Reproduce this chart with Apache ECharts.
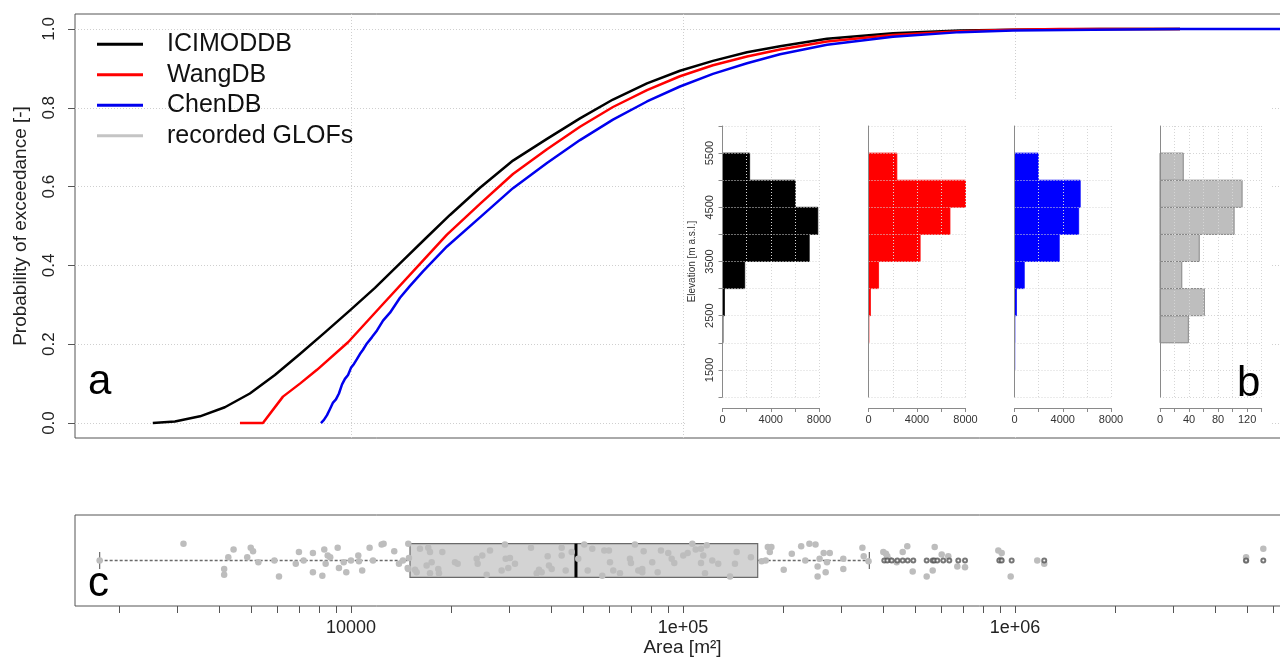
<!DOCTYPE html>
<html><head><meta charset="utf-8">
<script src="https://cdn.jsdelivr.net/npm/echarts@6/dist/echarts.min.js"></script>
<style>html,body{margin:0;padding:0;background:#fff}#c{width:1280px;height:665px}</style>
</head><body><div id="c"></div>
<script>
// ---------- Panel a: probability curves, [lake area m², probability] ----------
const icimodCurve = [[2530,0],[2950,0.004],[3510,0.017],[4170,0.040],[4960,0.075],[5900,0.122],[7020,0.175],[8350,0.230],[9930,0.286],[11810,0.343],[14050,0.405],[16710,0.467],[19870,0.528],[24470,0.597],[30760,0.666],[38940,0.721],[48960,0.773],[61540,0.821],[77910,0.862],[97950,0.894],[123100,0.919],[155900,0.941],[196000,0.956],[271500,0.975],[429100,0.989],[683000,0.996],[986200,0.998],[1803000,1.0],[3141000,1.0]];
const wangCurve = [[4630,0],[5430,0],[6240,0.067],[7020,0.100],[7900,0.135],[9800,0.205],[12490,0.302],[15910,0.398],[19460,0.478],[24470,0.556],[30760,0.632],[38940,0.695],[48960,0.752],[61540,0.802],[77910,0.845],[97950,0.880],[123100,0.908],[155900,0.930],[196000,0.948],[271500,0.968],[429100,0.985],[683000,0.994],[986200,0.998],[1366000,1.0],[3141000,1.0]];
const chenCurve = [[8120,0],[8290,0.008],[8470,0.020],[8640,0.035],[8830,0.052],[9010,0.060],[9200,0.075],[9400,0.098],[9590,0.112],[9800,0.122],[10000,0.140],[10210,0.150],[10420,0.162],[10640,0.175],[10870,0.186],[11170,0.202],[11570,0.218],[11980,0.235],[12490,0.260],[13110,0.280],[14050,0.318],[15060,0.348],[16480,0.385],[19460,0.448],[24470,0.522],[30760,0.596],[38940,0.660],[48960,0.718],[61540,0.770],[77910,0.816],[97950,0.854],[123100,0.886],[155900,0.913],[196000,0.936],[271500,0.960],[429100,0.980],[683000,0.992],[986200,0.996],[1717000,0.998],[3141000,1.0],[6735000,1.0]];
const probTicks = [0, 0.2, 0.4, 0.6, 0.8, 1.0];

// ---------- Panel b: elevation histograms (500 m bins) ----------
const elevBinLower = [1000,1500,2000,2500,3000,3500,4000,4500,5000,5500];
const icimodCounts = [0,0,40,160,1840,7190,7900,6030,2250,0];
const wangCounts   = [0,0,30,160,830,4260,6720,8000,2340,0];
const chenCounts   = [0,20,30,160,810,3710,5320,5450,1970,0];
const glofCounts   = [0,0,39,61,30,54,102,113,32,0];

// ---------- Panel c: recorded GLOF lake areas (m²) ----------
const glofArea = [1750,3130,4150,4150,4270,4430,4870,4990,5070,5260,5880,6070,6820,6970,7200,7680,7680,8200,8310,8390,8510,8660,9120,9200,9510,9680,10000,10520,10570,10810,11380,11650,12370,12540,13500,13950,14340,14880,14820,14950,14880,15590,15770,16140,17090,17300,17500,16900,17300,18320,18410,18840,20570,20960,23910,24080,24860,25630,26230,28430,29090,29240,29770,30120,31190,34850,36250,36840,37530,39130,39480,40230,43110,43110,44330,46220,48370,50430,51640,53310,57140,57940,59850,60270,61660,64590,69230,69710,71670,73340,75400,76130,75400,80800,83900,85840,90300,92470,94150,100200,103300,106700,109200,113300,113300,115100,116500,117900,122500,127700,138600,143400,145100,160200,172600,177500,180100,184600,182600,201100,212700,227000,233600,240300,250700,254400,254400,257900,265300,269000,271500,276800,304000,304000,347100,350300,362200,401200,408700,412500,418200,440300,458900,473800,491900,542000,565100,573000,601500,629700,670300,707100,890800,912000,905700,970500,1167000,1225000,4967000,4967000,5597000];
const glofJitter = [0,0.20,-0.10,-0.17,0.04,0.13,0.04,0.15,0.11,-0.02,0,-0.19,-0.04,0.10,0,0.09,-0.14,-0.18,0.13,-0.04,0.06,0.04,0.15,-0.09,-0.02,-0.14,0,0.06,-0.01,-0.12,0.15,0,0.19,0.20,0.11,-0.04,0,0.20,-0.09,0.03,-0.10,-0.11,-0.14,0.14,0.15,0.10,-0.02,-0.06,-0.15,-0.10,-0.15,0.10,-0.02,-0.04,0.02,-0.04,0.06,-0.17,0.12,-0.12,0.19,0.02,-0.09,0.03,-0.04,0.15,-0.15,-0.11,-0.14,0.05,-0.06,-0.10,0.15,0.06,-0.12,0.10,0.02,0.19,-0.12,0.14,-0.18,0.12,0.12,-0.02,-0.12,-0.15,0.02,-0.03,0.19,-0.12,-0.10,0.11,-0.14,-0.02,-0.14,0.12,0.09,0.02,-0.03,0.06,0.09,0.20,0.13,0.14,-0.03,0.06,-0.15,0.18,0,-0.04,-0.19,-0.04,0.10,0.04,-0.01,0,0.16,0.16,0.10,-0.11,0.08,0.17,0,0.20,0.19,-0.07,-0.19,0.02,0.09,-0.14,-0.02,0.09,0.02,-0.10,0.15,0.05,-0.01,0.10,0.08,0.05,0.01,-0.02,0.10,0.17,-0.13,-0.19,-0.12,0.16,0.07,0.05,-0.07,-0.08,0.12,0.09,0.01,-0.19,0,-0.04,0.04,0,0.14];
const boxStats = [1750, 15060, 47610, 167900, 364200]; // lower whisker, Q1, median, Q3, upper whisker
const outlierArea = [404000,412500,425200,442200,458900,475100,494000,542000,565100,571400,583400,608100,634100,675000,707100,897000,912000,977200,1225000,4967000,5597000];
const areaLabelValues = [10000, 100000, 1000000];
const areaLabelText = ['10000', '1e+05', '1e+06'];
const areaTickValues = [2000,3000,4000,5000,6000,7000,8000,9000,10000,20000,30000,40000,50000,60000,70000,80000,90000,100000,200000,300000,400000,500000,600000,700000,800000,900000,1000000,2000000,3000000,4000000,5000000,6000000];
const areaRange = [1475, 6735000];

const lg = v => Math.log10(v);
const FONT = '"Liberation Sans", Arial, sans-serif';
const GRIDC = '#cfcfcf';
const X_MIN = lg(areaRange[0]), X_MAX = lg(areaRange[1]);

const chart = echarts.init(document.getElementById('c'), null, {renderer: 'canvas'});

const histPanels = [
  {counts: icimodCounts, fill: '#000000', stroke: '#000000', max: 8000, step: 2000, labelStep: 4000, left: 722.5, width: 96.5},
  {counts: wangCounts, fill: '#ff0000', stroke: '#ff0000', max: 8000, step: 2000, labelStep: 4000, left: 868.5, width: 97},
  {counts: chenCounts, fill: '#0000ff', stroke: '#0000ff', max: 8000, step: 2000, labelStep: 4000, left: 1014.5, width: 96.5},
  {counts: glofCounts, fill: '#bebebe', stroke: '#858585', max: 140, step: 20, labelStep: 40, left: 1160, width: 101.7}
];

const grids = [
  {left: 75, top: 14, width: 1215, height: 424, show: true, borderColor: '#555', borderWidth: 1, outerBoundsMode: 'none', containLabel: false},
  {left: 75, top: 515, width: 1215, height: 91, show: true, borderColor: '#555', borderWidth: 1, outerBoundsMode: 'none', containLabel: false}
];
const xAxes = [
  {type: 'value', gridIndex: 0, min: X_MIN, max: X_MAX, axisLine: {show: false},
   axisTick: {show: false, customValues: areaLabelValues.map(lg)}, axisLabel: {show: false},
   splitLine: {show: true, lineStyle: {color: GRIDC, type: [1, 2], width: 1}}},
  {type: 'value', gridIndex: 1, min: X_MIN, max: X_MAX, axisLine: {show: false},
   axisTick: {show: true, length: 7, customValues: areaTickValues.map(lg), lineStyle: {color: '#555'}},
   axisLabel: {customValues: areaLabelValues.map(lg), margin: 13, fontSize: 18, color: '#222', fontFamily: FONT,
     formatter: v => { const i = areaLabelValues.findIndex(a => Math.abs(lg(a) - v) < 1e-6); return i >= 0 ? areaLabelText[i] : ''; }},
   splitLine: {show: false},
   name: 'Area [m²]', nameLocation: 'middle', nameGap: 31, nameTextStyle: {fontSize: 19, color: '#222', fontFamily: FONT}}
];
const yAxes = [
  {type: 'value', gridIndex: 0, min: -0.038, max: 1.038, axisLine: {show: false},
   axisTick: {show: true, length: 7, customValues: probTicks, lineStyle: {color: '#555'}},
   axisLabel: {customValues: probTicks, rotate: 90, margin: 17, fontSize: 17, color: '#222', fontFamily: FONT, formatter: v => v.toFixed(1)},
   splitLine: {show: true, lineStyle: {color: GRIDC, type: [1, 2], width: 1}},
   name: 'Probability of exceedance [-]', nameLocation: 'middle', nameGap: 45,
   nameTextStyle: {fontSize: 19, color: '#222', fontFamily: FONT}},
  {type: 'value', gridIndex: 1, min: 0.46, max: 1.54, show: false}
];

histPanels.forEach((p, k) => {
  grids.push({left: p.left, top: 126, width: p.width, height: 271, outerBoundsMode: 'none'});
  xAxes.push({type: 'value', gridIndex: k + 2, min: 0, max: p.max, interval: p.step, offset: 11, z: 5,
    axisLine: {show: true, lineStyle: {color: '#8a8a8a'}},
    axisTick: {show: true, length: 4, lineStyle: {color: '#8a8a8a'}},
    axisLabel: {fontSize: 11, color: '#333', margin: 6, fontFamily: FONT, showMinLabel: true, showMaxLabel: true,
      formatter: v => (v % p.labelStep === 0 ? String(v) : '')},
    splitLine: {show: true, lineStyle: {color: '#d6d6d6', type: [1, 2], width: 1}}});
  const isFirst = k === 0;
  yAxes.push({type: 'value', gridIndex: k + 2, min: 1000, max: 6000, interval: 500, z: 5,
    axisLine: {show: true, lineStyle: {color: '#8a8a8a'}},
    axisTick: {show: isFirst, length: 4, lineStyle: {color: '#8a8a8a'}},
    axisLabel: {show: isFirst, rotate: 90, fontSize: 11, color: '#333', margin: 7, fontFamily: FONT,
      formatter: v => (v % 1000 === 500 ? String(v) : '')},
    splitLine: {show: true, lineStyle: {color: '#d6d6d6', type: [1, 2], width: 1}},
    name: isFirst ? 'Elevation [m a.s.l.]' : '', nameLocation: 'middle', nameGap: 25,
    nameTextStyle: {fontSize: 10, color: '#333', fontFamily: FONT}});
});

const lineSeries = (name, data, color) => ({
  name, type: 'line', xAxisIndex: 0, yAxisIndex: 0, data: data.map(d => [lg(d[0]), d[1]]),
  showSymbol: false, symbol: 'none', smooth: false,
  lineStyle: {color, width: 2.5, join: 'round'}, itemStyle: {color},
  silent: true, z: 3
});

const series = [
  lineSeries('ICIMODDB', icimodCurve, '#000000'),
  lineSeries('WangDB', wangCurve, '#ff0000'),
  lineSeries('ChenDB', chenCurve, '#0000ee')
];

histPanels.forEach((p, k) => {
  series.push({
    type: 'custom', xAxisIndex: k + 2, yAxisIndex: k + 2, silent: true, z: 2,
    data: elevBinLower.map((lo, i) => [lo, lo + 500, p.counts[i]]),
    encode: {x: 2, y: [0, 1]},
    renderItem: (params, api) => {
      const c = api.value(2);
      if (!c) return null;
      const a = api.coord([0, api.value(1)]);
      const b = api.coord([c, api.value(0)]);
      return {type: 'rect', shape: {x: a[0], y: a[1], width: b[0] - a[0], height: b[1] - a[1]},
        style: {fill: p.fill, stroke: p.stroke, lineWidth: k === 3 ? 1 : 0.8}};
    }
  });
});

series.push({
  type: 'custom', xAxisIndex: 1, yAxisIndex: 1, silent: true, z: 2,
  data: [[...boxStats.map(lg), 1]],
  encode: {x: [0, 1, 2, 3, 4], y: 5},
  renderItem: (params, api) => {
    const y0 = api.value(5);
    const P = (x, y) => api.coord([x, y]);
    const lo = P(api.value(0), y0), q1 = P(api.value(1), y0), md = P(api.value(2), y0), q3 = P(api.value(3), y0), hi = P(api.value(4), y0);
    const top = P(api.value(1), y0 + 0.2)[1], bot = P(api.value(1), y0 - 0.2)[1];
    const capT = P(api.value(0), y0 + 0.1)[1], capB = P(api.value(0), y0 - 0.1)[1];
    const dash = {stroke: '#6a6a6a', lineWidth: 1.3, lineDash: [3, 2]};
    const solid = {stroke: '#6a6a6a', lineWidth: 1.2};
    return {type: 'group', children: [
      {type: 'line', shape: {x1: lo[0], y1: lo[1], x2: q1[0], y2: q1[1]}, style: dash},
      {type: 'line', shape: {x1: q3[0], y1: q3[1], x2: hi[0], y2: hi[1]}, style: dash},
      {type: 'line', shape: {x1: lo[0], y1: capT, x2: lo[0], y2: capB}, style: solid},
      {type: 'line', shape: {x1: hi[0], y1: capT, x2: hi[0], y2: capB}, style: solid},
      {type: 'rect', shape: {x: q1[0], y: top, width: q3[0] - q1[0], height: bot - top}, style: {fill: '#d3d3d3', stroke: '#6a6a6a', lineWidth: 1.2}},
      {type: 'line', shape: {x1: md[0], y1: top, x2: md[0], y2: bot}, style: {stroke: '#000', lineWidth: 3}}
    ]};
  }
});

series.push({
  name: 'recorded GLOFs', type: 'scatter', xAxisIndex: 1, yAxisIndex: 1, silent: true, z: 3,
  data: glofArea.map((a, i) => [lg(a), 1 + glofJitter[i]]),
  symbol: 'circle', symbolSize: 6.5, itemStyle: {color: '#bdbdbd', opacity: 1}
});
series.push({
  type: 'scatter', xAxisIndex: 1, yAxisIndex: 1, silent: true, z: 4,
  data: outlierArea.map(a => [lg(a), 1]),
  symbol: 'emptyCircle', symbolSize: 4, itemStyle: {color: '#555', borderWidth: 0.6}
});

const option = {
  animation: false,
  backgroundColor: '#fff',
  textStyle: {fontFamily: FONT},
  grid: grids, xAxis: xAxes, yAxis: yAxes, series,
  legend: {
    orient: 'vertical', left: 97, top: 29, padding: 0, itemGap: 0, itemWidth: 46, itemHeight: 3,
    selectedMode: false,
    textStyle: {fontSize: 25, color: '#111', lineHeight: 30.5, padding: [0, 0, 0, 19], fontFamily: FONT},
    data: [
      {name: 'ICIMODDB', icon: 'rect', itemStyle: {color: '#000000'}},
      {name: 'WangDB', icon: 'rect', itemStyle: {color: '#ff0000'}},
      {name: 'ChenDB', icon: 'rect', itemStyle: {color: '#0000ee'}},
      {name: 'recorded GLOFs', icon: 'rect', itemStyle: {color: '#c4c4c4'}}
    ]
  },
  graphic: {elements: [
    {type: 'rect', shape: {x: 686, y: 100, width: 584, height: 337}, style: {fill: '#fff'}, z: 1, silent: true},
    {type: 'text', x: 88, y: 382, style: {text: 'a', font: '42px ' + FONT, fill: '#000', textVerticalAlign: 'middle'}, z: 10, silent: true},
    {type: 'text', x: 1237, y: 384, style: {text: 'b', font: '42px ' + FONT, fill: '#000', textVerticalAlign: 'middle'}, z: 10, silent: true},
    {type: 'text', x: 88, y: 584, style: {text: 'c', font: '42px ' + FONT, fill: '#000', textVerticalAlign: 'middle'}, z: 10, silent: true}
  ]}
};
chart.setOption(option);
</script></body></html>
